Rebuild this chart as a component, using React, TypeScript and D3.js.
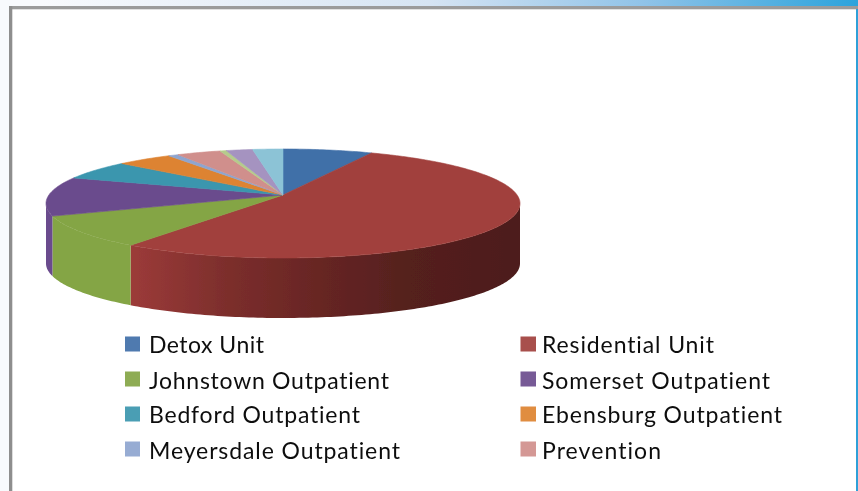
import React from "react";
import * as d3 from "d3";

const categories = ["Detox Unit","Residential Unit","Johnstown Outpatient","Somerset Outpatient","Bedford Outpatient","Ebensburg Outpatient","Meyersdale Outpatient","Prevention","Series9","Series10","Series11"];
const values = [7.1,52.5,9.3,11.6,5.8,4.4,0.8,3.5,0.5,2.1,2.4];
const colors = ["#3f6fa8","#a1403d","#84a545","#6b4c8d","#3a96ae","#dd8332","#8ea5cf","#d08f8c","#b5cb8c","#a593c0","#8cc3d6"];
const legendCols = [[0,2,4,6],[1,3,5,7]];
const labelWidths = [115,0,240,0,211,0,251,0];
const labelWidthsRight = [172,228,240,119];

const W = 858, H = 491;
const cx = 283, ellipseCy = 203.5, rx = 237, ry = 54.5, k = 0.156, depth = 60;

function topPoint(a: number): [number, number] {
  const u = Math.sin(a), v = Math.cos(a), d = 1 + k * v;
  const up = u * Math.sqrt(1 - k * k) / d, vp = (v + k) / d;
  return [cx + rx * up, ellipseCy - ry * vp];
}
const center: [number, number] = [cx, ellipseCy - ry * k];
const line = d3.line();
function arcPts(a0: number, a1: number) {
  const n = Math.max(2, Math.ceil(Math.abs(a1 - a0) * 60));
  return d3.range(n + 1).map(i => topPoint(a0 + (a1 - a0) * i / n));
}
const down = (p: [number, number]): [number, number] => [p[0], p[1] + depth];

const arcs = d3.pie<number>().sort(null)(values);
const sweep = d3.range(0, 2 * Math.PI, 0.002);
const aR = sweep[d3.greatestIndex(sweep, a => topPoint(a)[0])];
const aL = sweep[d3.leastIndex(sweep, a => topPoint(a)[0])];

function wall(a0: number, a1: number) {
  const from = Math.max(a0, aR), to = Math.min(a1, aL);
  if (to <= from) return null;
  const top = arcPts(from, to);
  return line([...top, ...top.slice().reverse().map(down)]) + "Z";
}

export default function App() {
  return (
    <svg width={W} height={H} viewBox={`0 0 ${W} ${H}`} style={{ position: "fixed", left: 0, top: 0, background: "#fff" }}>
      <defs>
        <linearGradient id="band" x1="0" x2="1" y1="0" y2="0">
          <stop offset="0.05" stopColor="#f8fafd" />
          <stop offset="0.5" stopColor="#d6e4f3" />
          <stop offset="0.75" stopColor="#90c3e8" />
          <stop offset="1" stopColor="#2ba3dc" />
        </linearGradient>
        <linearGradient id="redwall" gradientUnits="userSpaceOnUse" x1="130" x2="520" y1="0" y2="0">
          <stop offset="0" stopColor="#9c3b39" />
          <stop offset="0.25" stopColor="#7c2e2c" />
          <stop offset="0.5" stopColor="#662523" />
          <stop offset="0.72" stopColor="#54201e" />
          <stop offset="1" stopColor="#4d1c1a" />
        </linearGradient>
        <filter id="soft" x="-5%" y="-5%" width="110%" height="110%"><feGaussianBlur stdDeviation="0.5" /></filter>
      </defs>
      <rect x={0} y={0} width={9} height={H} fill="#f8fafd" />
      <rect x={0} y={0} width={W} height={6} fill="url(#band)" />
      <rect x={9} y={6} width={W - 9} height={3.3} fill="#9b9b9b" />
      <rect x={9} y={6} width={3.3} height={H - 6} fill="#8e8e8e" />
      <rect x={856} y={9} width={2} height={H - 9} fill="#2fa0d8" />
      <g filter="url(#soft)">
        {arcs.map((d, i) => {
          const p = wall(d.startAngle, d.endAngle);
          return p ? <path key={i} d={p} fill={i === 1 ? "url(#redwall)" : colors[i]} /> : null;
        })}
        {arcs.map((d, i) => (
          <path key={i} d={line([center, ...arcPts(d.startAngle, d.endAngle)]) + "Z"} fill={colors[i]} stroke={colors[i]} strokeWidth={0.6} />
        ))}
      </g>
      <g filter="url(#soft)" fontFamily="Lato, Carlito, sans-serif" fontSize={23} fill="#111" style={{ fontVariantLigatures: "none" }}>
        {legendCols.map((col, c) => col.map((idx, r) => {
          const x = c === 0 ? 125 : 520.5;
          const boxY = [336.5, 371.5, 406.5, 441.5][r];
          const baseY = [352.7, 388.5, 423, 458.7][r];
          return (
            <g key={idx}>
              <rect x={x} y={boxY} width={c ? 15.5 : 15} height={15} fill={colors[idx]} fillOpacity={0.92} />
              <text x={c ? 542 : 149} y={baseY} textLength={c ? labelWidthsRight[r] : labelWidths[idx]} lengthAdjust="spacing">{categories[idx]}</text>
            </g>
          );
        }))}
      </g>
    </svg>
  );
}
